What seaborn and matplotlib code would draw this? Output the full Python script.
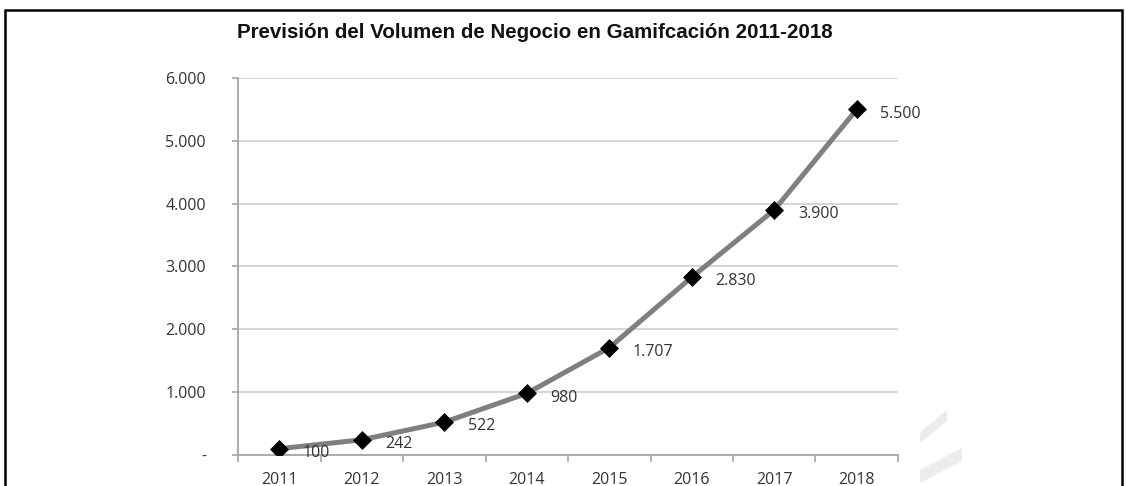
import matplotlib
matplotlib.use("Agg")
import matplotlib.pyplot as plt
from matplotlib.patches import Rectangle, Polygon
import seaborn as sns
import pandas as pd

# Forecast of gamification business volume
years = ["2011", "2012", "2013", "2014", "2015", "2016", "2017", "2018"]
volume = [100, 242, 522, 980, 1707, 2830, 3900, 5500]
y_ticks = [0, 1000, 2000, 3000, 4000, 5000, 6000]
title = "Previsión del Volumen de Negocio en Gamifcación 2011-2018"


def miles(v):
    """Spanish thousands separator; zero shown as a dash."""
    if v == 0:
        return "-"
    return f"{int(v):,}".replace(",", ".")


sns.set_theme(style="white")
plt.rcParams["font.family"] = ["Open Sans", "DejaVu Sans"]

df = pd.DataFrame({"year": years, "volume": volume})
df["pos"] = range(len(years))

fig = plt.figure(figsize=(11.26, 4.86), dpi=100)
ax = fig.add_axes([0.2114, 0.0638, 0.5861, 0.7757])

sns.lineplot(data=df, x="pos", y="volume", ax=ax, color="#7f7f7f",
             linewidth=3.6, marker="D", markersize=9,
             markerfacecolor="black", markeredgecolor="black",
             markeredgewidth=0.5, zorder=5)

# value labels to the right of each point
for x, v in zip(df["pos"], df["volume"]):
    ax.annotate(miles(v), (x, v), xytext=(17, -3), textcoords="offset points",
                ha="left", va="center", fontsize=11.5, color="#333333",
                zorder=6)

ax.set_xlim(-0.5, len(years) - 0.5)
ax.set_ylim(0, 6000)
ax.set_yticks(y_ticks)
ax.set_yticklabels([miles(v) for v in y_ticks])
ax.set_xticks(range(len(years)))
ax.set_xticklabels(years)
ax.set_xlabel("")
ax.set_ylabel("")

# horizontal gridlines
ax.yaxis.grid(True, color="#d2d2d2", linewidth=1.3)
ax.xaxis.grid(False)
ax.set_axisbelow(True)

for side in ("top", "right"):
    ax.spines[side].set_visible(False)
for side in ("left", "bottom"):
    ax.spines[side].set_color("#a6a6a6")
    ax.spines[side].set_linewidth(1.3)

# y ticks outward at gridlines; x ticks at category boundaries
ax.tick_params(axis="y", which="major", left=True, length=4, width=1.2,
               color="#a6a6a6", pad=19, labelsize=11.5, labelcolor="#333333")
ax.tick_params(axis="x", which="major", bottom=False, length=0, pad=12,
               labelsize=11.5, labelcolor="#333333")
ax.set_xticks([i - 0.5 for i in range(len(years) + 1)], minor=True)
ax.tick_params(axis="x", which="minor", bottom=True, length=5, width=1.2,
               color="#a6a6a6")

fig.text(0.475, 0.934, title, ha="center", va="center", fontsize=14.8,
         fontweight="bold", family=["Liberation Sans", "DejaVu Sans"],
         color="#111111")

# outer frame (open at the bottom edge of the image)
fig.patches.append(Rectangle((5 / 1126, -0.05), 1117 / 1126, 1.05 - 10 / 486,
                             transform=fig.transFigure, fill=False,
                             edgecolor="black", linewidth=1.8, clip_on=False))

# faint stripes in the lower right corner
stripe = "#ececec"
for (x0, y0, x1, y1, h) in [(920, 432, 947, 410, 11), (920, 470, 962, 448, 13)]:
    pts = [(x0, y0), (x1, y1), (x1, y1 + h), (x0, y0 + h)]
    fig.patches.append(Polygon([(px / 1126, 1 - py / 486) for px, py in pts],
                               closed=True, transform=fig.transFigure,
                               facecolor=stripe, edgecolor="none"))

fig.savefig("out.png", dpi=100)
